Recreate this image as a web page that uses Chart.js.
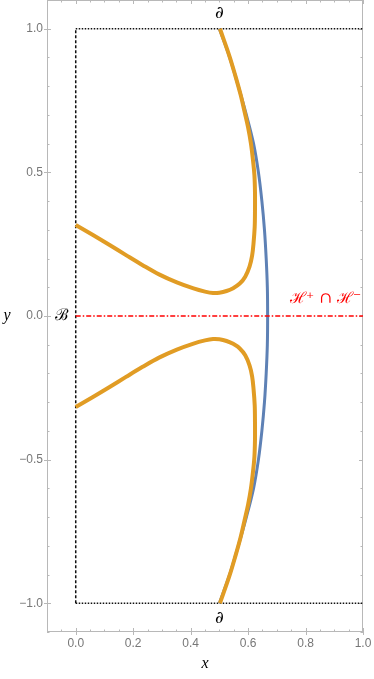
<!DOCTYPE html>
<html>
<head>
<meta charset="utf-8">
<script src="https://cdn.jsdelivr.net/npm/chart.js@4/dist/chart.umd.min.js"></script>
<style>
  html, body { margin: 0; padding: 0; background: #fff; }
  canvas { display: block; }
</style>
</head>
<body>
<canvas id="chart" width="374" height="679"></canvas>
<script>
// tick labels
const xTicks = [0, 0.2, 0.4, 0.6, 0.8, 1.0];
const yTicks = [-1, -0.5, 0, 0.5, 1];

// orange curve, upper branch (from the left edge round to the top)
const orangeUpperX = [0, 0.06, 0.118, 0.175, 0.233, 0.29, 0.352, 0.41, 0.45, 0.478, 0.5, 0.525, 0.548, 0.571, 0.59, 0.605, 0.614, 0.619, 0.623, 0.624, 0.624, 0.622, 0.617, 0.61, 0.6, 0.588, 0.574, 0.556, 0.535, 0.502];
const orangeUpperY = [0.317, 0.282, 0.247, 0.212, 0.177, 0.145, 0.117, 0.096, 0.085, 0.080, 0.081, 0.087, 0.097, 0.113, 0.137, 0.172, 0.21, 0.254, 0.31, 0.37, 0.43, 0.49, 0.543, 0.6, 0.657, 0.71, 0.77, 0.835, 0.905, 1.0];

// orange curve, lower branch
const orangeLowerX = [0, 0.06, 0.118, 0.175, 0.233, 0.29, 0.352, 0.41, 0.45, 0.478, 0.5, 0.525, 0.548, 0.571, 0.59, 0.605, 0.614, 0.619, 0.623, 0.624, 0.624, 0.622, 0.617, 0.61, 0.6, 0.588, 0.574, 0.556, 0.535, 0.502];
const orangeLowerY = [-0.317, -0.282, -0.247, -0.212, -0.177, -0.145, -0.117, -0.096, -0.085, -0.080, -0.081, -0.087, -0.097, -0.113, -0.137, -0.172, -0.21, -0.254, -0.31, -0.37, -0.43, -0.49, -0.543, -0.6, -0.657, -0.71, -0.77, -0.835, -0.905, -1.0];

// blue curve
const blueX = [0.5, 0.536, 0.566, 0.594, 0.619, 0.636, 0.648, 0.657, 0.663, 0.667, 0.668, 0.667, 0.663, 0.657, 0.648, 0.636, 0.619, 0.594, 0.566, 0.536, 0.5];
const blueY = [1.0, 0.9, 0.8, 0.7, 0.6, 0.5, 0.4, 0.3, 0.2, 0.1, 0, -0.1, -0.2, -0.3, -0.4, -0.5, -0.6, -0.7, -0.8, -0.9, -1.0];

// region edges
const redLineX = [0, 1];
const redLineY = [0, 0];
const topEdgeX = [0, 1];
const topEdgeY = [1, 1];
const bottomEdgeX = [0, 1];
const bottomEdgeY = [-1, -1];
const leftEdgeX = [0, 0];
const leftEdgeY = [-1, 1];

const ORANGE = '#e19c24';
const BLUE = '#5e81b5';
const FRAME = '#b8b8b8';
const TICK_TEXT = '#777';

function pts(xs, ys) {
  return xs.map((x, i) => ({ x, y: ys[i] }));
}

function line(xs, ys, color, width, dash, tension) {
  return {
    data: pts(xs, ys),
    borderColor: color,
    borderWidth: width,
    borderDash: dash || [],
    pointRadius: 0,
    showLine: true,
    fill: false,
    tension: tension || 0,
    borderCapStyle: 'butt',
  };
}

const framePlugin = {
  id: 'frame',
  beforeDatasetsDraw(chart) {
    const { ctx, chartArea: a, scales } = chart;
    ctx.save();
    ctx.strokeStyle = FRAME;
    ctx.lineWidth = 1;
    ctx.strokeRect(a.left + 0.5, a.top + 0.5, a.right - a.left - 1, a.bottom - a.top - 1);

    // minor ticks
    for (let v = -0.1; v <= 1.0001; v += 0.05) {
      const px = Math.round(scales.x.getPixelForValue(v)) + 0.5;
      ctx.beginPath();
      ctx.moveTo(px, a.bottom);
      ctx.lineTo(px, a.bottom - 2.5);
      ctx.moveTo(px, a.top);
      ctx.lineTo(px, a.top + 2.5);
      ctx.stroke();
    }
    for (let v = -1.1; v <= 1.1001; v += 0.1) {
      const py = Math.round(scales.y.getPixelForValue(v)) + 0.5;
      ctx.beginPath();
      ctx.moveTo(a.left, py);
      ctx.lineTo(a.left + 2.5, py);
      ctx.moveTo(a.right, py);
      ctx.lineTo(a.right - 2.5, py);
      ctx.stroke();
    }
    // major ticks
    xTicks.forEach((v) => {
      const px = Math.round(scales.x.getPixelForValue(v)) + 0.5;
      ctx.beginPath();
      ctx.moveTo(px, a.bottom + 3);
      ctx.lineTo(px, a.bottom - 4);
      ctx.moveTo(px, a.top);
      ctx.lineTo(px, a.top + 4);
      ctx.stroke();
    });
    yTicks.forEach((v) => {
      const py = Math.round(scales.y.getPixelForValue(v)) + 0.5;
      ctx.beginPath();
      ctx.moveTo(a.left - 3, py);
      ctx.lineTo(a.left + 4, py);
      ctx.moveTo(a.right, py);
      ctx.lineTo(a.right - 4, py);
      ctx.stroke();
    });
    ctx.restore();
  },
  afterDatasetsDraw(chart) {
    const { ctx, scales } = chart;
    const sx = scales.x;
    const sy = scales.y;
    ctx.save();
    ctx.textAlign = 'center';
    ctx.textBaseline = 'middle';
    ctx.fillStyle = '#000';
    ctx.font = 'italic 17px "DejaVu Serif", "Liberation Serif", serif';
    ctx.fillText('\u2202', sx.getPixelForValue(0.5), sy.getPixelForValue(1) - 15);
    ctx.fillText('\u2202', sx.getPixelForValue(0.5), sy.getPixelForValue(-1) + 15);
    ctx.font = '16px "DejaVu Serif", "Liberation Serif", serif';
    ctx.fillText('\u212c', sx.getPixelForValue(-0.05), sy.getPixelForValue(0));
    ctx.font = 'italic 16px "Liberation Serif", "DejaVu Serif", serif';
    ctx.fillText('y', 7, sy.getPixelForValue(0));
    ctx.fillText('x', sx.getPixelForValue(0.45), 664);
    ctx.fillStyle = '#ff0000';
    ctx.font = '15.5px "DejaVu Serif", "Liberation Serif", serif';
    ctx.fillText('\u210b\u207a \u2229 \u210b\u207b', sx.getPixelForValue(0.87), sy.getPixelForValue(0) - 17);
    ctx.restore();
  },
};

new Chart(document.getElementById('chart'), {
  type: 'scatter',
  data: {
    datasets: [
      line(orangeUpperX, orangeUpperY, ORANGE, 4, null, 0.35),
      line(orangeLowerX, orangeLowerY, ORANGE, 4, null, 0.35),
      line(redLineX, redLineY, '#ff0000', 1.5, [5, 2, 1.5, 2]),
      line(blueX, blueY, BLUE, 3, null, 0.35),
      line(topEdgeX, topEdgeY, '#111', 1.5, [1.5, 1.5]),
      line(bottomEdgeX, bottomEdgeY, '#111', 1.5, [1.5, 1.5]),
      line(leftEdgeX, leftEdgeY, '#111', 1.5, [3, 2]),
    ],
  },
  options: {
    responsive: false,
    animation: false,
    layout: { padding: { top: 0, right: 11, left: 0, bottom: 0 } },
    plugins: {
      legend: { display: false },
      tooltip: { enabled: false },
    },
    scales: {
      x: {
        type: 'linear',
        min: -0.1,
        max: 1.0,
        grid: { display: false, drawTicks: false, tickLength: 0 },
        border: { display: false },
        afterBuildTicks: (s) => { s.ticks = xTicks.map((v) => ({ value: v })); },
        afterFit: (s) => {
          s.height = 47;
          s.paddingLeft = 0;
          s.paddingRight = 0;
        },
        ticks: {
          padding: 4,
          color: TICK_TEXT,
          font: { family: '"Liberation Sans", Arial, sans-serif', size: 12 },
          callback: (v) => v.toFixed(1),
        },
      },
      y: {
        type: 'linear',
        min: -1.1,
        max: 1.1,
        grid: { display: false, drawTicks: false, tickLength: 0 },
        border: { display: false },
        afterBuildTicks: (s) => { s.ticks = yTicks.map((v) => ({ value: v })); },
        afterFit: (s) => {
          s.width = 47;
          s.paddingTop = 0;
          s.paddingBottom = 0;
        },
        ticks: {
          padding: 4,
          color: TICK_TEXT,
          font: { family: '"Liberation Sans", Arial, sans-serif', size: 12 },
          callback: (v) => (v < 0 ? '\u2212' : '') + Math.abs(v).toFixed(1),
        },
      },
    },
  },
  plugins: [framePlugin],
});
</script>
</body>
</html>
